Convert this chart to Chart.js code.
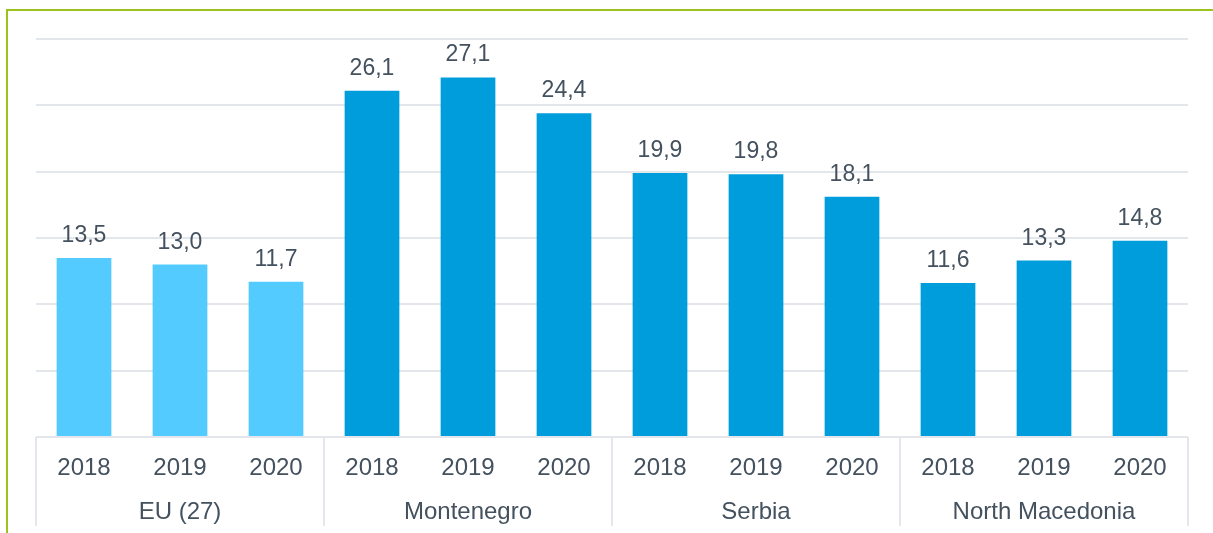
<!DOCTYPE html>
<html>
<head>
<meta charset="utf-8">
<script src="https://cdn.jsdelivr.net/npm/chart.js@4"></script>
<style>
    html, body { margin: 0; padding: 0; background: #fff; }
    #wrap { position: relative; width: 1213px; height: 533px; overflow: hidden; }
    #frame {
        position: absolute; left: 6px; top: 9px; width: 1300px; height: 600px;
        border-left: 2px solid #9CC31D; border-top: 2px solid #9CC31D;
    }
    canvas { position: absolute; left: 0; top: 0; }
</style>
</head>
<body>
<div id="wrap">
    <div id="frame"></div>
    <canvas id="grafico" width="1213" height="533"></canvas>
</div>
<script>
const ANOS = ["2018", "2019", "2020"];
const GRUPOS = ["EU (27)", "Montenegro", "Serbia", "North Macedonia"];
const VALORES_EU = [13.5, 13.0, 11.7];
const VALORES_MONTENEGRO = [26.1, 27.1, 24.4];
const VALORES_SERBIA = [19.9, 19.8, 18.1];
const VALORES_MACEDONIA = [11.6, 13.3, 14.8];

const COR_EU = "#54CBFE";
const COR_OUTROS = "#009DDD";
const COR_TEXTO = "#44515E";
const COR_GRADE = "#E3E7EB";
const FONTE = "'Liberation Sans', Arial, sans-serif";

const series = [VALORES_EU, VALORES_MONTENEGRO, VALORES_SERBIA, VALORES_MACEDONIA];
const labels = [];
const valores = [];
const cores = [];
series.forEach((lista, g) => {
    lista.forEach((v, i) => {
        labels.push(ANOS[i]);
        valores.push(v);
        cores.push(g === 0 ? COR_EU : COR_OUTROS);
    });
});

// rótulos de valor acima das barras
const rotulosPlugin = {
    id: "rotulos",
    afterDatasetsDraw(chart) {
        const ctx = chart.ctx;
        const meta = chart.getDatasetMeta(0);
        ctx.save();
        ctx.font = "23px " + FONTE;
        ctx.fillStyle = COR_TEXTO;
        ctx.textAlign = "center";
        ctx.textBaseline = "alphabetic";
        meta.data.forEach((bar, i) => {
            const txt = valores[i].toFixed(1).replace(".", ",");
            ctx.fillText(txt, bar.x, bar.y - 16);
        });
        ctx.restore();
    }
};

// linhas separando os grupos no eixo
const gruposPlugin = {
    id: "grupos",
    afterDraw(chart) {
        const ctx = chart.ctx;
        const x = chart.scales.x;
        const area = chart.chartArea;
        const n = labels.length;
        ctx.save();
        ctx.strokeStyle = COR_GRADE;
        ctx.lineWidth = 2;
        for (let i = 0; i <= n; i += ANOS.length) {
            let px;
            if (i === 0) px = x.left;
            else if (i === n) px = x.right;
            else px = (x.getPixelForValue(i - 1) + x.getPixelForValue(i)) / 2;
            ctx.beginPath();
            ctx.moveTo(px, area.bottom);
            ctx.lineTo(px, 526);
            ctx.stroke();
        }
        ctx.restore();
    }
};

new Chart(document.getElementById("grafico"), {
    type: "bar",
    data: {
        labels,
        datasets: [
            {
                data: valores,
                backgroundColor: cores,
                categoryPercentage: 1,
                barPercentage: 0.57
            }
        ]
    },
    options: {
        responsive: false,
        animation: false,
        layout: { padding: { left: 36, right: 25, top: 39, bottom: 0 } },
        plugins: {
            legend: { display: false },
            tooltip: { enabled: false }
        },
        scales: {
            y: {
                min: 0,
                max: 30,
                ticks: { display: false, stepSize: 5 },
                border: { display: false },
                grid: { color: COR_GRADE, lineWidth: 2, drawTicks: false }
            },
            x: {
                grid: { display: false },
                border: { display: false },
                afterFit: scale => { scale.height = 40; },
                ticks: {
                    color: COR_TEXTO,
                    font: { family: FONTE, size: 24 },
                    padding: 9,
                    maxRotation: 0,
                    autoSkip: false
                }
            },
            x2: {
                type: "category",
                labels: GRUPOS,
                position: "bottom",
                offset: true,
                grid: { display: false },
                border: { display: false },
                afterFit: scale => { scale.height = 56; },
                ticks: {
                    color: COR_TEXTO,
                    font: { family: FONTE, size: 24 },
                    padding: 13,
                    maxRotation: 0,
                    autoSkip: false
                }
            }
        }
    },
    plugins: [rotulosPlugin, gruposPlugin]
});
</script>
</body>
</html>
